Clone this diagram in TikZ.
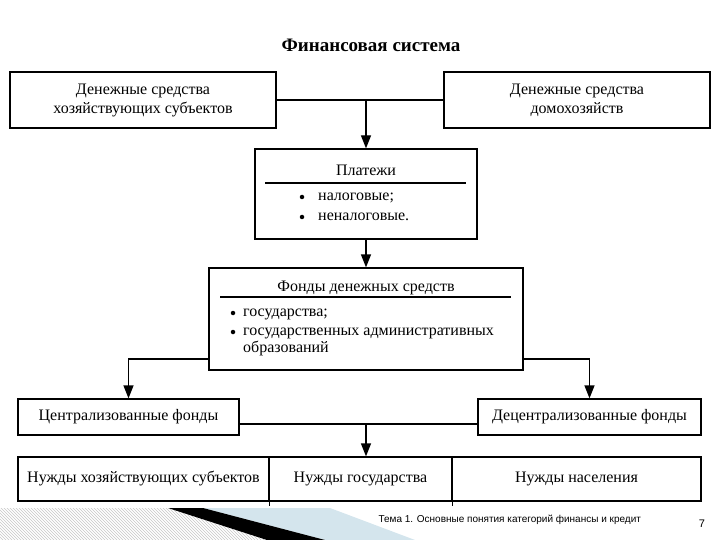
\documentclass[tikz,border=0pt]{standalone}
\usepackage{fontspec}
\setmainfont{Liberation Serif}
\newfontfamily\footfont{Liberation Sans}
\usetikzlibrary{arrows.meta,patterns}
\definecolor{slideblue}{RGB}{212,229,237}

\begin{document}
\begin{tikzpicture}[x=1pt,y=-1pt,
  box/.style={draw=black,line width=1.3pt,inner sep=0pt,align=center,font=\fontsize{16}{19}\selectfont},
  onebox/.style={box,text height=11pt,text depth=4pt},
  txt/.style={inner sep=0pt,text height=10pt,text depth=3pt,font=\fontsize{16}{17}\selectfont},
  dot/.style={circle,fill=black,inner sep=0pt,minimum size=4.5pt},
  lnk/.style={line width=1.3pt},
  arr/.style={line width=1.3pt,-{Triangle[length=13pt,width=10pt]}}]
\useasboundingbox (0,0) rectangle (720,540);

% slide decoration
\fill[pattern=north west lines,pattern color=black!22] (0,508) -- (168,508) -- (267,540) -- (0,540) -- cycle;
\fill[slideblue] (203,508) -- (330,508) -- (415,540) -- (325,540) -- cycle;
\fill[black] (168,508) -- (203,508) -- (325,540) -- (267,540) -- cycle;

\node[font=\bfseries\fontsize{19}{21}\selectfont] (title) at (371,45) {Финансовая система};

\node[box,minimum width=266pt,minimum height=56pt] (hoz) at (143,100) {Денежные средства\\хозяйствующих субъектов};
\node[box,minimum width=266pt,minimum height=56pt] (dom) at (577,100) {Денежные средства\\домохозяйств};

\node[box,minimum width=222pt,minimum height=90pt] (plat) at (366,194) {};
\node[txt] (platt) at (366,172) {Платежи};
\draw[lnk] (265,183) -- (466,183);
\node[dot] (pb1) at (302,197) {};
\node[txt,anchor=west] (nal) at (318,197) {налоговые;};
\node[dot] (pb2) at (302,217) {};
\node[txt,anchor=west] (nenal) at (318,217) {неналоговые.};

\node[box,minimum width=314pt,minimum height=102pt] (fond) at (366,319) {};
\node[txt] (fondt) at (366,288) {Фонды денежных средств};
\draw[lnk] (220,297) -- (511,297);
\node[dot] (fb1) at (233,313) {};
\node[txt,anchor=west] (gos) at (243,313) {государства;};
\node[dot] (fb2) at (233,332) {};
\node[txt,anchor=west] (adm) at (243,332) {государственных административных};
\node[txt,anchor=west] (obr) at (243,349) {образований};

\node[onebox,minimum width=221pt,minimum height=36pt] (cen) at (128.5,417) {Централизованные фонды};
\node[onebox,minimum width=223pt,minimum height=36pt] (dec) at (589.5,417) {Децентрализованные фонды};

\node[onebox,minimum width=251pt,minimum height=44pt] (nuz1) at (143.5,479) {Нужды хозяйствующих субъектов};
\node[onebox,minimum width=183pt,minimum height=44pt] (nuz2) at (360.5,479) {Нужды государства};
\node[onebox,minimum width=249pt,minimum height=44pt] (nuz3) at (576.5,479) {Нужды населения};
\draw[lnk] (nuz1.south east) -- ++(0,4);
\draw[lnk] (nuz2.south east) -- ++(0,4);

\coordinate (j1) at (366,100);
\coordinate (j2) at (366,424);
\draw[lnk] (hoz) -- (dom);
\draw[arr] (j1) -- (plat);
\draw[arr] (plat) -- (fond);
\draw[arr] ([yshift=-40pt]fond.west) -| (cen.north);
\draw[arr] ([yshift=-40pt]fond.east) -| (dec.north);
\draw[lnk] ([yshift=-7pt]cen.east) -- ([yshift=-7pt]dec.west);
\draw[arr] (j2) -- (j2 |- nuz2.north);

\node[font=\footfont\fontsize{10}{12}\selectfont,anchor=west] (tema) at (375,520) {Тема 1. Основные понятия категорий финансы и кредит};
\node[font=\footfont\fontsize{11}{12}\selectfont] (pg) at (702,524) {7};
\end{tikzpicture}
\end{document}
